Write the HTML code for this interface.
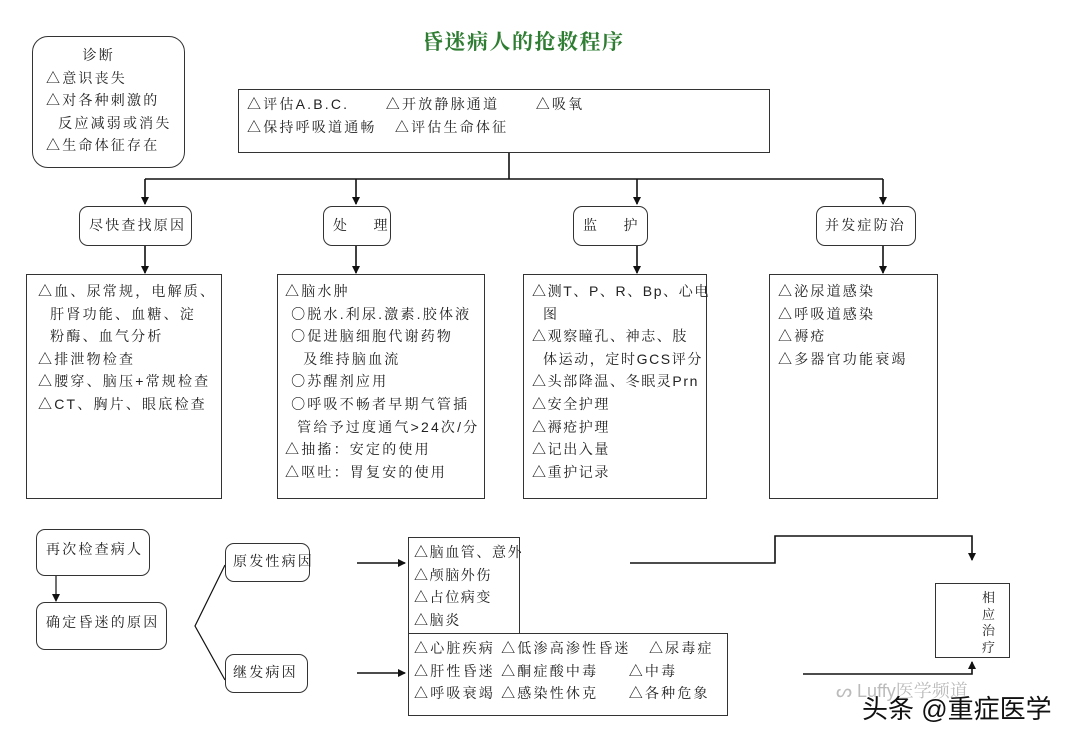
<!DOCTYPE html>
<html><head><meta charset="utf-8"><style>
body{margin:0;width:1080px;height:750px;background:#fff;position:relative;overflow:hidden;font-family:"Liberation Sans","Noto Serif CJK SC",serif;color:#222;}
.b{position:absolute;border:1.3px solid #333;box-sizing:border-box;background:#fff;}
.r{border-radius:9px;}
.t{position:absolute;font-size:14px;letter-spacing:2.2px;line-height:22.6px;white-space:pre;}
svg{position:absolute;left:0;top:0;}
</style></head><body>
<svg width="1080" height="750">
<defs><marker id="a" markerWidth="8" markerHeight="8" refX="7" refY="4" orient="auto" markerUnits="userSpaceOnUse"><path d="M0,0L8,4L0,8z" fill="#111"/></marker></defs>
<g stroke="#111" stroke-width="1.6" fill="none">
<path d="M509,152V179"/>
<path d="M145,179H883"/>
<path d="M145,179V204" marker-end="url(#a)"/>
<path d="M356,179V204" marker-end="url(#a)"/>
<path d="M637,179V204" marker-end="url(#a)"/>
<path d="M883,179V204" marker-end="url(#a)"/>
<path d="M145,246V273" marker-end="url(#a)"/>
<path d="M356,246V273" marker-end="url(#a)"/>
<path d="M637,246V273" marker-end="url(#a)"/>
<path d="M883,246V273" marker-end="url(#a)"/>
<path d="M56,576V601" stroke-width="1.2" marker-end="url(#a)"/>
<path d="M225,565L195,626L225,680" stroke-width="1.2"/>
<path d="M357,563H405" marker-end="url(#a)"/>
<path d="M357,673H405" marker-end="url(#a)"/>
<path d="M630,563H775V536H972V560" marker-end="url(#a)"/>
<path d="M803,674H972V662" marker-end="url(#a)"/>
</g></svg>
<div class="t" style="left:422px;top:32px;font-size:21px;font-weight:bold;color:#2e7d32;letter-spacing:1.5px;">昏迷病人的抢救程序</div>
<div class="b r" style="left:32px;top:36px;width:153px;height:132px;border-radius:16px;"></div>
<div class="t" style="left:46px;top:44px;">      诊断
△意识丧失
△对各种刺激的
  反应减弱或消失
△生命体征存在</div>
<div class="b" style="left:238px;top:89px;width:532px;height:64px;"></div>
<div class="t" style="left:247px;top:93px;">△评估A.B.C.      △开放静脉通道      △吸氧
△保持呼吸道通畅   △评估生命体征</div>
<div class="b r" style="left:79px;top:206px;width:113px;height:40px;"></div><div class="t" style="left:89px;top:214px;">尽快查找原因</div>
<div class="b r" style="left:323px;top:206px;width:68px;height:40px;"></div><div class="t" style="left:333px;top:214px;">处    理</div>
<div class="b r" style="left:573px;top:206px;width:75px;height:40px;"></div><div class="t" style="left:583px;top:214px;">监    护</div>
<div class="b r" style="left:816px;top:206px;width:100px;height:40px;"></div><div class="t" style="left:825px;top:214px;">并发症防治</div>
<div class="b" style="left:26px;top:274px;width:196px;height:225px;"></div>
<div class="t" style="left:38px;top:280px;">△血、尿常规，电解质、
  肝肾功能、血糖、淀
  粉酶、血气分析
△排泄物检查
△腰穿、脑压+常规检查
△CT、胸片、眼底检查</div>
<div class="b" style="left:277px;top:274px;width:208px;height:225px;"></div>
<div class="t" style="left:285px;top:280px;">△脑水肿
 〇脱水.利尿.激素.胶体液
 〇促进脑细胞代谢药物
   及维持脑血流
 〇苏醒剂应用
 〇呼吸不畅者早期气管插
  管给予过度通气>24次/分
△抽搐：安定的使用
△呕吐：胃复安的使用</div>
<div class="b" style="left:523px;top:274px;width:184px;height:225px;"></div>
<div class="t" style="left:532px;top:280px;letter-spacing:1.6px;">△测T、P、R、Bp、心电
  图
△观察瞳孔、神志、肢
  体运动，定时GCS评分
△头部降温、冬眠灵Prn
△安全护理
△褥疮护理
△记出入量
△重护记录</div>
<div class="b" style="left:769px;top:274px;width:169px;height:225px;"></div>
<div class="t" style="left:778px;top:280px;">△泌尿道感染
△呼吸道感染
△褥疮
△多器官功能衰竭</div>
<div class="b r" style="left:36px;top:529px;width:114px;height:47px;"></div><div class="t" style="left:46px;top:538px;">再次检查病人</div>
<div class="b r" style="left:36px;top:602px;width:131px;height:48px;"></div><div class="t" style="left:46px;top:611px;">确定昏迷的原因</div>
<div class="b r" style="left:225px;top:543px;width:85px;height:39px;"></div><div class="t" style="left:233px;top:550px;">原发性病因</div>
<div class="b r" style="left:225px;top:654px;width:83px;height:39px;"></div><div class="t" style="left:233px;top:661px;">继发病因</div>
<div class="b" style="left:408px;top:537px;width:112px;height:97px;"></div>
<div class="t" style="left:414px;top:541px;letter-spacing:1.6px;">△脑血管、意外
△颅脑外伤
△占位病变
△脑炎</div>
<div class="b" style="left:408px;top:633px;width:320px;height:83px;"></div>
<div class="t" style="left:414px;top:637px;">△心脏疾病 △低渗高渗性昏迷   △尿毒症
△肝性昏迷 △酮症酸中毒     △中毒
△呼吸衰竭 △感染性休克     △各种危象</div>
<div class="b" style="left:935px;top:583px;width:75px;height:75px;"></div>
<div class="t" style="left:982px;top:590px;line-height:16.5px;font-size:13px;letter-spacing:0;">相
应
治
疗</div>
<div class="t" style="left:836px;top:680px;font-size:18px;color:#bbb;letter-spacing:0;">ᔕ Luffy医学频道</div>
<div class="t" style="left:862px;top:698px;font-size:26px;color:#111;letter-spacing:0;font-family:'Liberation Sans','Noto Sans CJK SC',sans-serif;text-shadow:0 0 2px #fff,0 0 2px #fff;">头条 @重症医学</div>
</body></html>
